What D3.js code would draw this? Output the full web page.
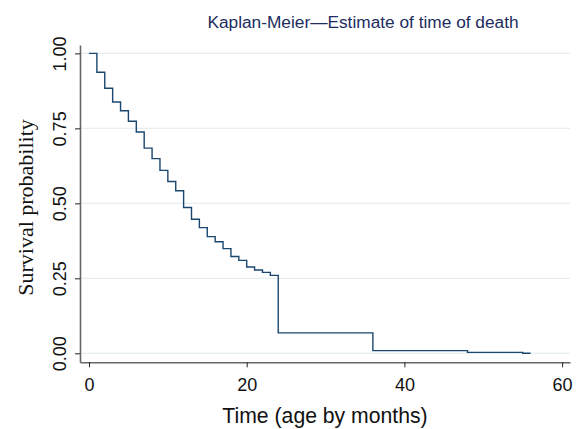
<!DOCTYPE html>
<html lang="en">

<head>
    <meta charset="UTF-8">
    <title>Kaplan-Meier estimate</title>
    <script src="https://d3js.org/d3.v7.min.js"></script>
    <style>
        body {
            margin: 0;
            padding: 0;
            background: #fff;
        }

        .tick text {
            font-family: "Liberation Sans", Arial, sans-serif;
            font-size: 18px;
            fill: #111;
        }

        .grid line {
            stroke: #e6eef0;
            stroke-width: 1.2px;
        }
    </style>
</head>

<body>
    <div id="chart"></div>

    <script>
        // step times (months) and survival level starting at each time
        const times = [0, 1, 2, 3, 4, 5, 6, 7, 8, 9, 10, 11, 12, 13, 14, 15, 16, 17, 18, 19, 20, 21, 22, 23, 24, 36, 48, 55, 56];
        const survival = [1.0, 0.937, 0.884, 0.838, 0.809, 0.774, 0.738, 0.684, 0.649, 0.61, 0.573, 0.542, 0.486, 0.447,
            0.419, 0.389, 0.372, 0.349, 0.323, 0.31, 0.288, 0.278, 0.27, 0.26, 0.068, 0.009, 0.003, 0.0, 0.0];
        const xTicks = [0, 20, 40, 60];
        const yTicks = [0, 0.25, 0.5, 0.75, 1];

        const width = 581;
        const height = 429;
        const plotLeft = 80, plotRight = 570, plotTop = 45, plotBottom = 362.3;

        const svg = d3.select("#chart")
            .append("svg")
            .attr("width", width)
            .attr("height", height);

        const x = d3.scaleLinear()
            .domain([-1.14, 61])
            .range([plotLeft, plotRight]);

        const y = d3.scaleLinear()
            .domain([-0.03, 1.028])
            .range([plotBottom, plotTop]);

        // gridlines
        svg.append("g")
            .attr("class", "grid")
            .selectAll("line")
            .data(yTicks)
            .enter().append("line")
            .attr("x1", plotLeft)
            .attr("x2", plotRight)
            .attr("y1", d => y(d))
            .attr("y2", d => y(d));

        // survival curve
        const data = times.map((t, i) => ({ t: t, s: survival[i] }));
        const line = d3.line()
            .x(d => x(d.t))
            .y(d => y(d.s))
            .curve(d3.curveStepAfter);

        svg.append("path")
            .datum(data)
            .attr("d", line)
            .attr("fill", "none")
            .attr("stroke", "#1a476f")
            .attr("stroke-width", 1.4);

        // x axis
        const xAxis = svg.append("g")
            .attr("transform", `translate(0,${plotBottom})`)
            .call(d3.axisBottom(x).tickValues(xTicks).tickFormat(d3.format("d")).tickSize(5).tickSizeOuter(0));
        xAxis.select(".domain").attr("stroke", "#666").attr("stroke-width", 1.6);
        xAxis.selectAll(".tick line").attr("stroke", "#222");
        xAxis.selectAll(".tick text").attr("y", 28.4).attr("dy", 0);

        // y axis
        const yAxis = svg.append("g")
            .attr("transform", `translate(${plotLeft},0)`)
            .call(d3.axisLeft(y).tickValues(yTicks).tickFormat(d3.format(".2f")).tickSize(5).tickSizeOuter(0));
        yAxis.select(".domain").attr("stroke", "#666").attr("stroke-width", 1.6);
        yAxis.selectAll(".tick line").attr("stroke", "#222");
        yAxis.selectAll(".tick text")
            .attr("transform", "rotate(-90)")
            .attr("x", 0)
            .attr("y", -14.3)
            .attr("dy", 0)
            .attr("text-anchor", "middle");

        // titles
        svg.append("text")
            .attr("x", 363)
            .attr("y", 28.3)
            .attr("text-anchor", "middle")
            .style("font-family", "'Liberation Sans', Arial, sans-serif")
            .style("font-size", "17.3px")
            .style("fill", "#1c2d5e")
            .text("Kaplan-Meier\u2014Estimate of time of death");

        svg.append("text")
            .attr("x", (plotLeft + plotRight) / 2)
            .attr("y", 423.3)
            .attr("text-anchor", "middle")
            .style("font-family", "'Liberation Sans', Arial, sans-serif")
            .style("font-size", "21.2px")
            .style("fill", "#111")
            .text("Time (age by months)");

        svg.append("text")
            .attr("transform", "rotate(-90)")
            .attr("x", -207.5)
            .attr("y", 32.7)
            .attr("text-anchor", "middle")
            .style("font-family", "'Liberation Serif', 'Times New Roman', serif")
            .style("font-size", "22px")
            .style("fill", "#111")
            .text("Survival probability");
    </script>
</body>

</html>
